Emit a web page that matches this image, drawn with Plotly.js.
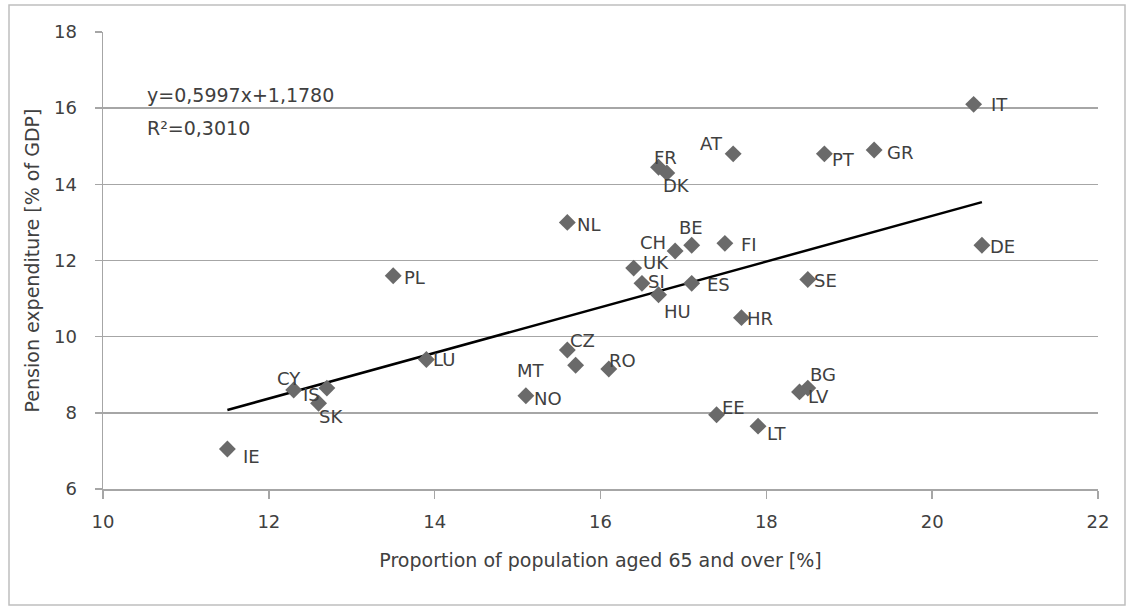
<!DOCTYPE html>
<html>
<head>
<meta charset="utf-8">
<script src="https://cdn.plot.ly/plotly-3.0.1.min.js"></script>
<style>
  html, body { margin: 0; padding: 0; background: #ffffff; }
  #chart { width: 1132px; height: 609px; }
</style>
</head>
<body>
<div id="chart"></div>
<script>
// ---- data ----
const countries = ["IE","CY","IS","SK","LU","PL","NO","CZ","MT","RO","NL","FR","DK","AT","CH","BE","FI","UK","SI","ES","HU","HR","SE","BG","LV","EE","LT","IT","PT","GR","DE"];
const aged65 = [11.5, 12.3, 12.7, 12.6, 13.9, 13.5, 15.1, 15.6, 15.7, 16.1, 15.6, 16.7, 16.8, 17.6, 16.9, 17.1, 17.5, 16.4, 16.5, 17.1, 16.7, 17.7, 18.5, 18.5, 18.4, 17.4, 17.9, 20.5, 18.7, 19.3, 20.6];
const pensionGDP = [7.05, 8.6, 8.65, 8.25, 9.4, 11.6, 8.45, 9.65, 9.25, 9.15, 13.0, 14.45, 14.3, 14.8, 12.25, 12.4, 12.45, 11.8, 11.4, 11.4, 11.1, 10.5, 11.5, 8.65, 8.55, 7.95, 7.65, 16.1, 14.8, 14.9, 12.4];
const trendSlope = 0.5997;
const trendIntercept = 1.1780;
const rSquared = 0.3010;
const xTicks = [10, 12, 14, 16, 18, 20, 22];
const yTicks = [6, 8, 10, 12, 14, 16, 18];

// label offsets in pixels (style only): [dx, dy] from marker centre, dy downwards
const labelShift = {
  IE:[24,7], CY:[-5,-11], IS:[-15,6], SK:[12,13], LU:[18,0], PL:[21,2], NO:[22,3],
  CZ:[15,-10], MT:[-45,5], RO:[14,-9], NL:[22,2], FR:[7,-10], DK:[10,13], AT:[-22,-10],
  CH:[-22,-8], BE:[-1,-18], FI:[24,1], UK:[22,-6], SI:[15,-2], ES:[27,1], HU:[19,17],
  HR:[19,1], SE:[18,1], BG:[15,-14], LV:[19,5], EE:[17,-7], LT:[19,7], IT:[26,0],
  PT:[19,6], GR:[26,2], DE:[21,1]
};

const fmt = (v, d) => v.toFixed(d).replace('.', ',');

const xMin = Math.min(...aged65), xMax = Math.max(...aged65);
const trendX = [xMin, xMax];
const trendY = trendX.map(x => trendSlope * x + trendIntercept);

const textColor = '#404040';
const fontFam = '"DejaVu Sans", "Open Sans", sans-serif';
const fs = 18;
const fsTitle = 19;

const traces = [
  {
    type: 'scatter', mode: 'lines',
    x: trendX, y: trendY,
    line: { color: '#000000', width: 2.5 },
    hoverinfo: 'skip', showlegend: false
  },
  {
    type: 'scatter', mode: 'markers',
    x: aged65, y: pensionGDP, text: countries,
    marker: { symbol: 'diamond', size: 13, color: '#6a6a6a' },
    showlegend: false
  }
];

const annotations = countries.map((c, i) => ({
  x: aged65[i], y: pensionGDP[i], xref: 'x', yref: 'y',
  text: c, showarrow: false,
  xanchor: 'center', yanchor: 'middle',
  xshift: labelShift[c][0], yshift: -labelShift[c][1],
  font: { family: fontFam, size: fs, color: textColor }
}));

annotations.push({
  xref: 'paper', yref: 'paper', x: 0.042, y: 0.862, xanchor: 'left', yanchor: 'middle',
  text: 'y=' + fmt(trendSlope, 4) + 'x+' + fmt(trendIntercept, 4),
  showarrow: false, font: { family: fontFam, size: fsTitle, color: textColor }
});
annotations.push({
  xref: 'paper', yref: 'paper', x: 0.042, y: 0.79, xanchor: 'left', yanchor: 'middle',
  text: 'R²=' + fmt(rSquared, 4),
  showarrow: false, font: { family: fontFam, size: fsTitle, color: textColor }
});

const L = 103, R = 34, T = 32, B = 120, W = 1132, H = 609;
const pw = W - L - R, ph = H - T - B;

const layout = {
  width: W, height: H,
  margin: { l: L, r: R, t: T, b: B, pad: 0 },
  paper_bgcolor: '#ffffff', plot_bgcolor: '#ffffff',
  font: { family: fontFam, color: textColor, size: fs },
  xaxis: {
    range: [10, 22], tickvals: xTicks, ticktext: xTicks.map(String),
    showgrid: false, zeroline: false,
    showline: true, linecolor: '#a6a6a6', linewidth: 1.5,
    ticks: 'outside', ticklen: 8, tickcolor: '#a6a6a6', tickwidth: 1.5,
    ticklabelstandoff: 8,
    tickfont: { family: fontFam, size: fs, color: textColor },
    title: { text: 'Proportion of population aged 65 and over [%]', standoff: 22,
             font: { family: fontFam, size: fsTitle, color: textColor } },
    fixedrange: true
  },
  yaxis: {
    range: [6, 18], tickvals: yTicks, ticktext: yTicks.map(String),
    showgrid: true, gridcolor: '#a6a6a6', gridwidth: 1.5, zeroline: false,
    showline: true, linecolor: '#a6a6a6', linewidth: 1.5,
    ticks: 'outside', ticklen: 7, tickcolor: '#a6a6a6', tickwidth: 1.5,
    ticklabelstandoff: 14,
    tickfont: { family: fontFam, size: fs, color: textColor },
    title: { text: 'Pension expenditure [% of GDP]', standoff: 9,
             font: { family: fontFam, size: fsTitle, color: textColor } },
    fixedrange: true
  },
  shapes: [{
    type: 'rect', xref: 'paper', yref: 'paper',
    x0: (9 - L) / pw, x1: (1125 - L) / pw,
    y0: -(605 - (H - B)) / ph, y1: 1 + (T - 5) / ph,
    line: { color: '#bfbfbf', width: 1.5 }, layer: 'below'
  }],
  annotations: annotations,
  showlegend: false
};

Plotly.newPlot('chart', traces, layout, { displayModeBar: false, staticPlot: true });
</script>
</body>
</html>
